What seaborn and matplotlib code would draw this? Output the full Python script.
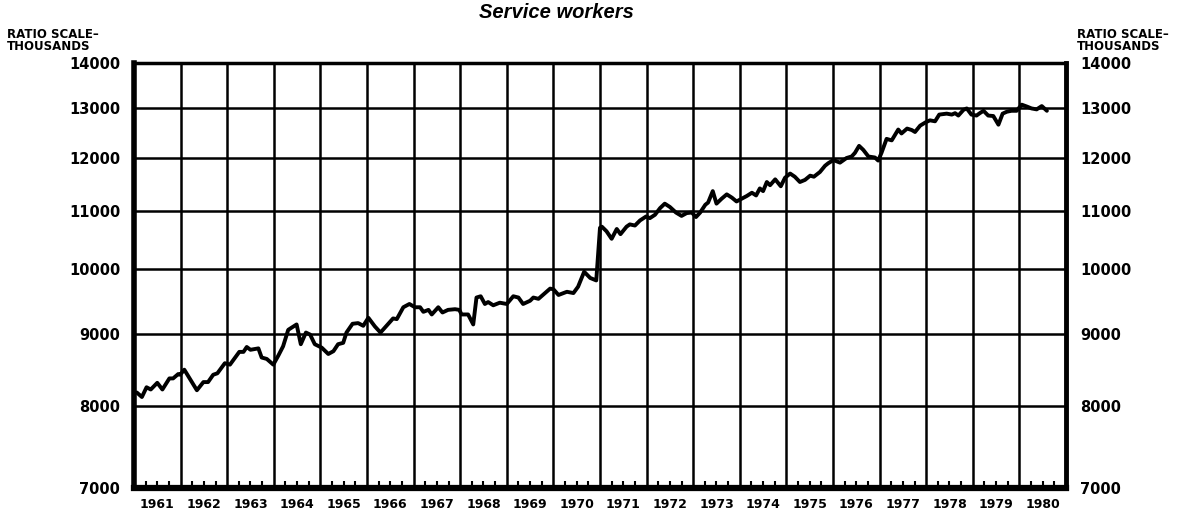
import matplotlib
matplotlib.use("Agg")
import matplotlib.pyplot as plt
import matplotlib.ticker as mticker
import pandas as pd
import seaborn as sns

# Service workers, monthly-ish readings (decimal year, thousands)
years = [
    1961.06, 1961.17, 1961.27, 1961.36, 1961.50, 1961.61, 1961.76, 1961.84, 1961.95, 1961.99,
    1962.08, 1962.35, 1962.49, 1962.59, 1962.70, 1962.79, 1962.95,
    1963.06, 1963.26, 1963.35, 1963.42, 1963.50, 1963.67, 1963.74, 1963.85, 1963.99,
    1964.10, 1964.20, 1964.31, 1964.49, 1964.58, 1964.69, 1964.78, 1964.88,
    1965.03, 1965.17, 1965.28, 1965.38, 1965.49, 1965.56, 1965.69, 1965.81, 1965.92,
    1966.03, 1966.17, 1966.29, 1966.42, 1966.56, 1966.64, 1966.78, 1966.91,
    1967.03, 1967.14, 1967.21, 1967.32, 1967.39, 1967.53, 1967.62, 1967.74, 1967.89, 1967.98,
    1968.03, 1968.17, 1968.28, 1968.35, 1968.44, 1968.53, 1968.60, 1968.71, 1968.85,
    1969.00, 1969.14, 1969.25, 1969.35, 1969.50, 1969.57, 1969.68, 1969.82, 1969.93,
    1970.00, 1970.11, 1970.29, 1970.43, 1970.53, 1970.66, 1970.79, 1970.92,
    1971.00, 1971.04, 1971.14, 1971.25, 1971.36, 1971.44, 1971.57, 1971.64, 1971.75, 1971.86, 1971.99,
    1972.07, 1972.18, 1972.29, 1972.39, 1972.50, 1972.63, 1972.75, 1972.86, 1972.97,
    1973.06, 1973.15, 1973.26, 1973.32, 1973.42, 1973.50, 1973.61, 1973.72, 1973.83, 1973.93,
    1974.04, 1974.15, 1974.26, 1974.35, 1974.43, 1974.50, 1974.58, 1974.65, 1974.76, 1974.88, 1974.97,
    1975.08, 1975.18, 1975.29, 1975.40, 1975.51, 1975.59, 1975.72, 1975.83, 1975.90,
    1976.01, 1976.15, 1976.29, 1976.40, 1976.47, 1976.56, 1976.65, 1976.76, 1976.90, 1976.97,
    1977.04, 1977.15, 1977.26, 1977.40, 1977.47, 1977.59, 1977.69, 1977.76, 1977.87, 1977.99,
    1978.08, 1978.19, 1978.28, 1978.44, 1978.55, 1978.62, 1978.69, 1978.80, 1978.87, 1978.97,
    1979.08, 1979.15, 1979.23, 1979.33, 1979.44, 1979.55, 1979.64, 1979.73, 1979.83, 1979.94,
    1980.05, 1980.16, 1980.26, 1980.37, 1980.48, 1980.59,
]
workers = [
    8180, 8120, 8250, 8220, 8310, 8220, 8370, 8370, 8430, 8420,
    8490, 8210, 8320, 8320, 8420, 8440, 8580,
    8560, 8740, 8740, 8810, 8770, 8790, 8660, 8640, 8560,
    8690, 8820, 9060, 9140, 8850, 9020, 8990, 8850,
    8800, 8710, 8750, 8850, 8870, 9020, 9150, 9160, 9120,
    9240, 9110, 9020, 9120, 9230, 9220, 9400, 9450,
    9400, 9400, 9330, 9360, 9290, 9400, 9320, 9360, 9370, 9360,
    9290, 9290, 9140, 9550, 9570, 9450, 9480, 9430, 9470,
    9450, 9570, 9550, 9450, 9500, 9550, 9530, 9620, 9690,
    9680, 9590, 9640, 9620, 9720, 9960, 9860, 9820,
    10700, 10720, 10640, 10510, 10680, 10590, 10720, 10760, 10740, 10830, 10900,
    10870, 10930, 11050, 11130, 11070, 10970, 10910, 10960, 10970,
    10890, 10970, 11110, 11150, 11360, 11130, 11220, 11300, 11240, 11170,
    11220, 11270, 11330, 11280, 11410, 11360, 11530, 11470, 11580, 11450, 11610,
    11690, 11630, 11530, 11570, 11650, 11630, 11720, 11840, 11890,
    11950, 11900, 11990, 12020, 12090, 12230, 12150, 12020, 12000, 11940,
    12090, 12370, 12340, 12560, 12480, 12580, 12550, 12510, 12640, 12710,
    12750, 12730, 12870, 12890, 12870, 12900, 12850, 12970, 13000, 12870,
    12850, 12900, 12950, 12850, 12840, 12660, 12890, 12930, 12950, 12950,
    13080, 13040, 13000, 12980, 13050, 12950,
]
y_ticks = [7000, 8000, 9000, 10000, 11000, 12000, 13000, 14000]
year_labels = list(range(1961, 1981))

sns.set_theme(style="white")
plt.rcParams["font.family"] = ["DejaVu Sans"]
plt.rcParams["font.weight"] = "bold"
plt.rcParams["text.color"] = "black"

df = pd.DataFrame({"year": years, "workers": workers})

fig = plt.figure(figsize=(11.94, 5.15), dpi=100)
ax = fig.add_axes([0.1122, 0.0524, 0.7806, 0.8253])
sns.lineplot(data=df, x="year", y="workers", ax=ax, color="black", lw=2.8,
             estimator=None, sort=False)

ax.set_yscale("log")
ax.set_ylim(7000, 14000)
ax.set_xlim(1961, 1981)
ax.set_yticks(y_ticks)
ax.yaxis.set_major_formatter(mticker.FuncFormatter(lambda v, p: f"{int(round(v))}"))
ax.yaxis.set_minor_locator(mticker.NullLocator())

# year boundaries carry the grid, quarter ticks carry the labels
ax.set_xticks(range(1961, 1982))
ax.set_xticklabels([])
quarters = [y + q for y in year_labels for q in (0.25, 0.5, 0.75)]
ax.set_xticks(quarters, minor=True)
ax.set_xticklabels([str(int(q)) if abs(q % 1 - 0.5) < 1e-6 else "" for q in quarters], minor=True)

ax.grid(True, which="major", color="black", lw=1.8)
ax.tick_params(axis="x", which="major", length=0)
ax.tick_params(axis="x", which="minor", direction="in", length=5, width=1.5,
               color="black", labelsize=9, pad=7, bottom=True, labelcolor="black")
ax.tick_params(axis="y", which="major", length=0, labelleft=True, labelright=True,
               labelsize=10.5, pad=10, labelcolor="black")
ax.set_xlabel("")
ax.set_ylabel("")

for side, w in {"left": 4, "bottom": 4.5, "right": 3.5, "top": 2.5}.items():
    ax.spines[side].set_visible(True)
    ax.spines[side].set_color("black")
    ax.spines[side].set_linewidth(w)

fig.text(0.466, 0.975, "Service workers", ha="center", va="center", color="black",
         fontsize=14.5, fontweight="bold", fontstyle="italic", family=["Liberation Sans"])
fig.text(0.006, 0.945, "RATIO SCALE\u2013\nTHOUSANDS", ha="left", va="top", color="black",
         fontsize=8.5, fontweight="bold", linespacing=0.85)
fig.text(0.902, 0.945, "RATIO SCALE\u2013\nTHOUSANDS", ha="left", va="top", color="black",
         fontsize=8.5, fontweight="bold", linespacing=0.85)

fig.savefig("out.png", dpi=100)
